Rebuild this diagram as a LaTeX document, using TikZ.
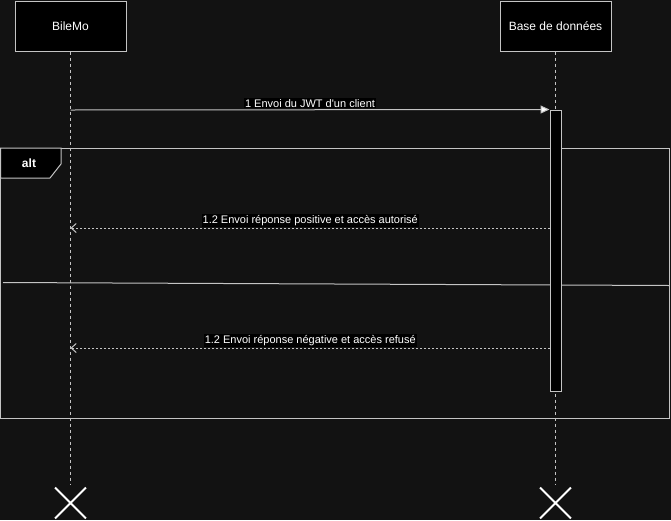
\documentclass[tikz,border=0pt]{standalone}
\usepackage{fontspec}
\setmainfont{Liberation Sans}[Ligatures=TeXOff]
\usetikzlibrary{arrows.meta,shapes.misc}
\definecolor{bgdark}{HTML}{121212}
\definecolor{lineg}{HTML}{C4C4C4}
\begin{document}
\begin{tikzpicture}[x=1pt,y=-1pt,line width=1pt,
    actor/.style={draw=lineg,fill=black,text=white,inner sep=0pt,
        minimum width=111pt,minimum height=50pt,font=\fontsize{12}{14}\selectfont},
    lifeline/.style={draw=lineg,dash pattern=on 3pt off 3pt},
    activation/.style={draw=lineg,fill=black,inner sep=0pt,minimum width=11pt,minimum height=281pt},
    msg/.style={fill=black,text=white,inner sep=1pt,font=\fontsize{11}{13}\selectfont},
    call/.style={draw=lineg,-{Triangle[length=9pt,width=8pt,fill=white]}},
    reply/.style={draw=lineg,dash pattern=on 2pt off 2pt,-{Straight Barb[length=5pt,width=9pt]}},
    frame/.style={draw=lineg,line width=1pt},
    destroy/.style={cross out,draw=white,line width=1.8pt,minimum size=29pt,inner sep=0pt}]
\fill[bgdark] (0,0) rectangle (671,520);
\useasboundingbox (0,0) rectangle (671,520);
% participants
\node[actor] (bile) at (70.5,26) {BileMo};
\node[actor] (base) at (555.5,26) {Base de données};
\coordinate (bileEnd) at (70.5,485);
\coordinate (baseEnd) at (555.5,485);
\draw[lifeline] (bile.south) -- (bileEnd);
\draw[lifeline] (base.south) -- (baseEnd);
\node[destroy] (bileX) at (70.5,503) {};
\node[destroy] (baseX) at (555.5,503) {};
% alt frame
\draw[frame] (0.5,148) rectangle (669.5,418);
\draw[frame,fill=black] (0.5,148) -- (61,148) -- (61,164) -- (50,178) -- (0.5,178) -- cycle;
\node[text=white,font=\bfseries\fontsize{12}{14}\selectfont] (alt) at (29,163) {alt};
\draw[frame] (3,282.5) -- (669.5,285.5);
% activation
\node[activation] (act) at (555.5,250.5) {};
% messages
\coordinate (m1) at (70.5,110);
\draw[call] (m1) -- (act.north west) node[msg,midway,above=1pt] {1 Envoi du JWT d'un client};
\coordinate (r1a) at (550,228);
\coordinate (r1b) at (70.5,228);
\draw[reply] (r1a) -- (r1b) node[msg,midway,above=1pt] {1.2 Envoi réponse positive et accès autorisé};
\coordinate (r2a) at (550,348);
\coordinate (r2b) at (70.5,348);
\draw[reply] (r2a) -- (r2b) node[msg,midway,above=1pt] {1.2 Envoi réponse négative et accès refusé};
\end{tikzpicture}
\end{document}
